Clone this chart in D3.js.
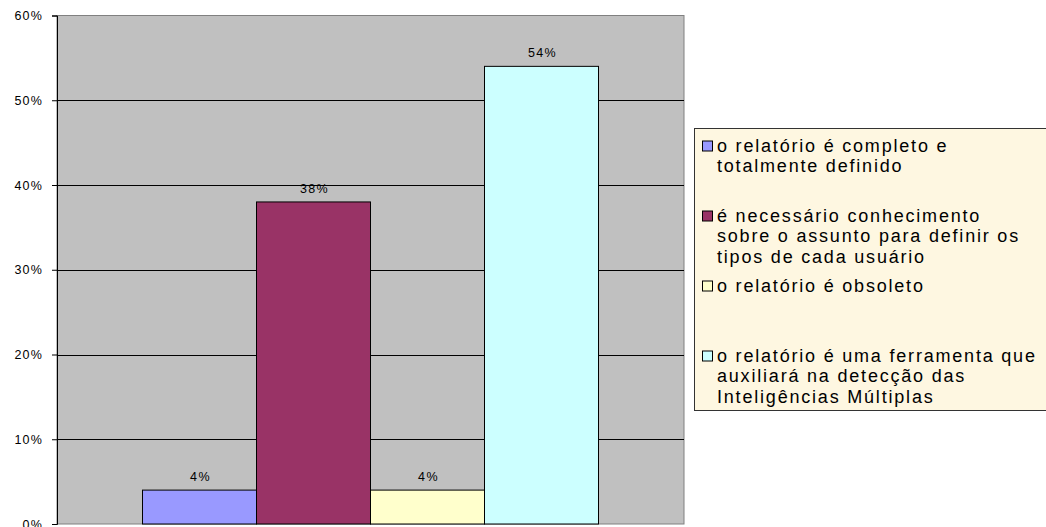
<!DOCTYPE html>
<html>
<head>
<meta charset="utf-8">
<script src="https://cdn.jsdelivr.net/npm/d3@7"></script>
<style>
  html, body { margin: 0; padding: 0; background: #fff; }
  svg { display: block; }
  text { font-family: "Liberation Sans", Arial, sans-serif; fill: #000; }
</style>
</head>
<body>
<svg id="chart" width="1046" height="527"></svg>
<script>
const categories = ["Avaliação"];
const seriesNames = [
  ["o relatório é completo e", "totalmente definido"],
  ["é necessário conhecimento", "sobre o assunto para definir os", "tipos de cada usuário"],
  ["o relatório é obsoleto"],
  ["o relatório é uma ferramenta que", "auxiliará na detecção das", "Inteligências Múltiplas"]
];
const seriesValues = [0.04, 0.38, 0.04, 0.54];
const seriesColors = ["#9999FF", "#993366", "#FFFFCC", "#CCFFFF"];
const yTicks = [0, 0.1, 0.2, 0.3, 0.4, 0.5, 0.6];

const svg = d3.select("#chart");
const plot = { left: 57, right: 684, top: 15.5, bottom: 524 };

const y = d3.scaleLinear().domain([0, 0.6]).range([plot.bottom, plot.top]);
const x0 = d3.scaleBand().domain(categories).range([plot.left, plot.right]).padding(0);
const barW = x0.bandwidth() / 5.5;
const x1 = d3.scaleBand().domain(d3.range(seriesValues.length))
  .range([barW * 0.75, x0.bandwidth() - barW * 0.75]).padding(0);

// plot background
svg.append("rect")
  .attr("x", plot.left).attr("y", plot.top)
  .attr("width", plot.right - plot.left).attr("height", plot.bottom - plot.top)
  .attr("fill", "#C0C0C0").attr("stroke", "#808080").attr("stroke-width", 1);

// gridlines
svg.append("g").selectAll("line").data(yTicks.filter(d => d > 0 && d < 0.6)).join("line")
  .attr("x1", plot.left).attr("x2", plot.right)
  .attr("y1", d => Math.round(y(d)) + 0.5).attr("y2", d => Math.round(y(d)) + 0.5)
  .attr("stroke", "#000").attr("stroke-width", 1);

// bars
const g = svg.append("g").attr("transform", `translate(${x0(categories[0])},0)`);
g.selectAll("rect").data(seriesValues).join("rect")
  .attr("x", (d, i) => x1(i))
  .attr("y", d => y(d))
  .attr("width", x1.bandwidth())
  .attr("height", d => y(0) - y(d))
  .attr("fill", (d, i) => seriesColors[i])
  .attr("stroke", "#000").attr("stroke-width", 1);

g.selectAll("text.lbl").data(seriesValues).join("text")
  .attr("class", "lbl")
  .attr("x", (d, i) => x1(i) + x1.bandwidth() / 2 + 1)
  .attr("y", d => y(d) - 9)
  .attr("text-anchor", "middle")
  .style("font-size", "12.5px").style("letter-spacing", "1.4px")
  .text(d => Math.round(d * 100) + "%");

// y axis
const yAxis = d3.axisLeft(y).tickValues(yTicks).tickFormat(d3.format(".0%")).tickSize(5).tickPadding(9);
const ax = svg.append("g").attr("transform", `translate(${plot.left},0)`).call(yAxis);
ax.select(".domain").attr("stroke", "#000");
ax.selectAll(".tick line").attr("stroke", "#000");
ax.selectAll(".tick text")
  .style("font-family", "'Liberation Sans', Arial, sans-serif")
  .style("font-size", "12.5px").style("letter-spacing", "1.2px").attr("fill", "#000");

// legend
const leg = svg.append("g");
leg.append("rect").attr("x", 694.5).attr("y", 128.5).attr("width", 360).attr("height", 282)
  .attr("fill", "#FEF7E1").attr("stroke", "#333").attr("stroke-width", 1);
const itemBase = 151.5, itemStep = 70, lineH = 20.5;
const items = leg.selectAll("g.item").data(seriesNames).join("g").attr("class", "item")
  .attr("transform", (d, i) => `translate(0,${itemBase + i * itemStep})`);
items.append("rect").attr("x", 702.5).attr("y", -10.5).attr("width", 10).attr("height", 10)
  .attr("fill", (d, i) => seriesColors[i]).attr("stroke", "#000").attr("stroke-width", 1);
items.each(function(lines) {
  const t = d3.select(this).append("text").attr("x", 717).attr("y", 0)
    .style("font-size", "18px").style("letter-spacing", "1.8px");
  lines.forEach((ln, j) => t.append("tspan").attr("x", 717).attr("y", j * lineH).text(ln));
});
</script>
</body>
</html>
